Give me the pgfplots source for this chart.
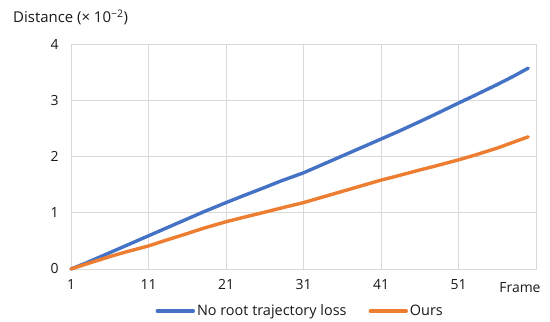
\documentclass[border=0pt]{standalone}
\usepackage{fontspec}
\setmainfont{Open Sans}
\usepackage{pgfplots}
\pgfplotsset{compat=1.18}
\definecolor{cblue}{HTML}{4472C4}
\definecolor{corange}{HTML}{ED7D31}
\definecolor{cgrid}{HTML}{D9D9D9}
\begin{document}
\begin{tikzpicture}
\begin{axis}[
 scale only axis, width=465bp, height=225bp,
 xmin=1, xmax=61, ymin=0, ymax=4,
 xtick={1,11,21,31,41,51,61}, xticklabels={1,11,21,31,41,51,{}},
 ytick={0,1,2,3,4},
 grid=major, grid style={cgrid, line width=0.9bp},
 axis line style={cgrid, line width=0.9bp},
 major tick length=0pt,
 tick label style={font=\fontsize{14}{16}\selectfont, text=black!90},
 /pgf/number format/assume math mode=true,
 xticklabel style={yshift=-7bp},
 yticklabel style={xshift=-9bp},
 clip=false,
 legend style={at={(0.493,-0.187)}, anchor=center, draw=none, fill=none,
   legend columns=2, font=\fontsize{14.5}{16}\selectfont, text=black!90,
   /tikz/every even column/.append style={column sep=20bp}},
 legend cell align=left,
 legend image code/.code={\draw[#1, line width=3.4bp] (0bp,0bp) -- (36bp,0bp);},
]
\addplot[cblue, line width=3.4bp, line cap=round, line join=round] coordinates {
 (1,0) (3,0.11) (6,0.29) (8,0.41) (11,0.59) (13,0.71) (16,0.89) (18,1.01) (21,1.18) (23,1.29) (26,1.45)
 (28,1.56) (31,1.71) (33,1.83) (36,2.01) (38,2.13) (41,2.31) (43,2.43) (46,2.62) (48,2.75) (51,2.95)
 (53,3.08) (56,3.28) (58,3.42) (60,3.57)};
\addlegendentry{No root trajectory loss}
\addplot[corange, line width=3.4bp, line cap=round, line join=round] coordinates {
 (1,0) (3,0.09) (6,0.22) (8,0.30) (11,0.41) (13,0.50) (16,0.63) (18,0.72) (21,0.84) (23,0.91) (26,1.01)
 (28,1.08) (31,1.18) (33,1.26) (36,1.38) (38,1.46) (41,1.58) (43,1.65) (46,1.76) (48,1.83) (51,1.94)
 (53,2.02) (56,2.15) (58,2.25) (60,2.35)};
\addlegendentry{Ours}
\coordinate (SW) at (rel axis cs:0,0);
\node[anchor=base west, font=\fontsize{15}{17}\selectfont, text=black!90, inner sep=0pt] at (rel axis cs:0,1) [xshift=-58bp, yshift=21bp] {Distance (× 10\textsuperscript{−2})};
\node[font=\fontsize{14}{16}\selectfont, text=black!90, anchor=base] at (rel axis cs:1,0) [xshift=-16bp, yshift=-23bp] {Frame};
\end{axis}
\pgfresetboundingbox
\path (SW) ++(-71bp,-53bp) rectangle ++(550bp,322bp);
\end{tikzpicture}
\end{document}
